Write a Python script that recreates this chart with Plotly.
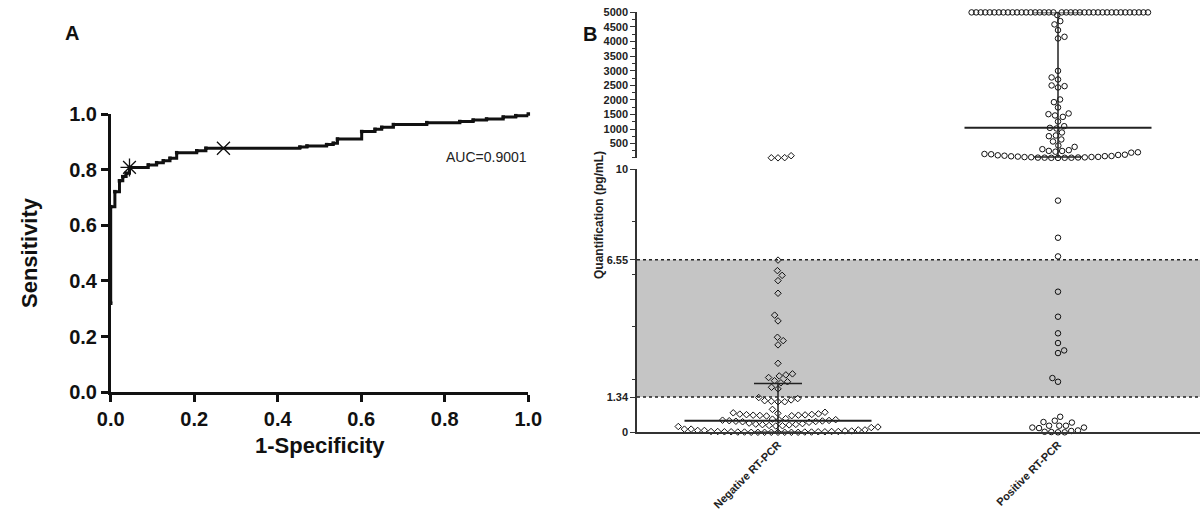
import math
import plotly.graph_objects as go

# ---------------- data ----------------
# Panel A : ROC curve (step vertices)
roc_fpr = [0.0, 0.0, 0.010, 0.021, 0.029, 0.037, 0.045, 0.090, 0.110, 0.126, 0.142,
           0.158, 0.206, 0.228, 0.453, 0.470, 0.517, 0.533, 0.543, 0.601, 0.633,
           0.649, 0.677, 0.757, 0.836, 0.868, 0.900, 0.940, 0.970, 1.0]
roc_tpr = [0.32, 0.667, 0.721, 0.760, 0.775, 0.787, 0.808, 0.817, 0.825, 0.832, 0.841,
           0.861, 0.868, 0.877, 0.881, 0.885, 0.890, 0.895, 0.910, 0.937, 0.945,
           0.952, 0.962, 0.969, 0.973, 0.978, 0.982, 0.989, 0.994, 1.0]
cut_star_fpr = [0.045]
cut_star_tpr = [0.808]
cut_x_fpr = [0.27]
cut_x_tpr = [0.877]
auc_label = "AUC=0.9001"
roc_ticks = [0.0, 0.2, 0.4, 0.6, 0.8, 1.0]

# Panel B : quantification (pg/mL), broken axis
categories = ["Negative RT-PCR", "Positive RT-PCR"]
neg_low = [0.0, 0.0, 0.0, 0.0, 0.0, 0.0, 0.0, 0.0, 0.01, 0.01, 0.01, 0.01,
           0.02, 0.02, 0.02, 0.02, 0.03, 0.03, 0.03, 0.03, 0.05, 0.05, 0.07, 0.07,
           0.09, 0.09, 0.12, 0.12,
           0.18, 0.20, 0.22, 0.24, 0.25, 0.26, 0.28, 0.29, 0.30, 0.31, 0.33, 0.35,
           0.38, 0.40, 0.41, 0.42, 0.43, 0.44, 0.45, 0.46, 0.47, 0.48, 0.50, 0.52,
           0.62, 0.63, 0.64, 0.65, 0.65, 0.66, 0.67, 0.68, 0.69, 0.70, 0.72, 0.74, 0.76, 0.87,
           1.16, 1.16, 1.18, 1.20, 1.23, 1.28, 1.32,
           1.65, 1.71, 1.88, 1.92, 1.96, 2.08, 2.14, 2.18, 2.22,
           2.62, 3.32, 3.48, 3.61, 4.23, 4.45, 5.28, 5.76, 5.96, 6.14, 6.54]
neg_high = [12, 15, 18, 85]
pos_low = [0.0, 0.0, 0.01, 0.02, 0.05, 0.07, 0.16, 0.18, 0.18, 0.25, 0.25, 0.25,
           0.37, 0.39, 0.44, 0.59, 1.92, 2.06, 3.01, 3.11, 3.39, 3.76, 4.39, 5.34,
           6.68, 7.39, 8.80]
pos_high = [10, 12, 14, 16, 18, 20, 24, 28, 32, 38, 41, 45, 55, 65, 70, 75, 85, 99,
            110, 120, 135, 144, 190, 202, 223, 247,
            250, 275, 309, 388, 436, 573, 642, 755, 779, 882, 1019, 1040, 1098, 1259,
            1417, 1465, 1510, 1534, 1740, 1922, 2014, 2426, 2471, 2495, 2700, 2769,
            2996, 4107, 4163, 4393, 4588, 4701, 4907] + [5000] * 39
neg_median, neg_q1, neg_q3 = 0.44, 0.0, 1.85      # lower segment
pos_median, pos_q1, pos_q3 = 1040, 41, 5000       # upper segment
band_low, band_high = 1.34, 6.55
low_ticks = [0, 1.34, 6.55, 10]
low_ticktext = ["0", "1.34", "6.55", "10"]
low_minor = [2, 4, 6, 8]
up_ticks = [500, 1000, 1500, 2000, 2500, 3000, 3500, 4000, 4500, 5000]
up_minor = [10, 250, 750, 1250, 1750, 2250, 2750, 3250, 3750, 4250, 4750]
low_range = [0, 10]
up_range = [10, 5000]

# ---------------- layout geometry (pixels) ----------------
W, H = 1202, 511
A_X0, A_X1, A_Y0, A_Y1 = 110.7, 528.3, 392.3, 114.0
B_X0, B_X1 = 637.0, 1200.0
B_LOW_BOT, B_LOW_TOP = 432.3, 169.0
B_UP_BOT, B_UP_TOP = 157.9, 12.4
CAT_PX = [778.0, 1058.0]
UNIT_PX = CAT_PX[1] - CAT_PX[0]
xr = [(B_X0 - CAT_PX[0]) / UNIT_PX, (B_X1 - CAT_PX[0]) / UNIT_PX]
D = 6.7          # marker spacing in px
ROW_LIM = 90.0   # max half width of a row in px
HALF_MED = 93.5 / UNIT_PX
HALF_CAP = 24.0 / UNIT_PX


def px(x):
    return x / W


def py(y):
    return 1 - y / H


def low_px(v):
    return B_LOW_BOT - (v - low_range[0]) / (low_range[1] - low_range[0]) * (B_LOW_BOT - B_LOW_TOP)


def up_px(v):
    return B_UP_BOT - (v - up_range[0]) / (up_range[1] - up_range[0]) * (B_UP_BOT - B_UP_TOP)


def swarm(ys, vals):
    idx = sorted(range(len(ys)), key=lambda i: (-ys[i], i))
    placed = []
    xs = [0.0] * len(ys)
    flip = False
    for i in idx:
        y = ys[i]
        near = [(xj, yj) for xj, yj in placed if abs(yj - y) < D]
        ws = [math.sqrt(D * D - (yj - y) ** 2) for xj, yj in near]
        cands = [0.0]
        for (xj, yj), w in zip(near, ws):
            cands += [xj - w, xj + w]
        valid = [c for c in cands
                 if all(abs(c - xj) >= w - 1e-6 for (xj, yj), w in zip(near, ws))]
        best = min(abs(c) for c in valid)
        ties = sorted(set(round(c, 4) for c in valid if abs(c) - best < 0.5))
        if len(ties) > 1:
            c = ties[0] if flip else ties[-1]
            flip = not flip
        else:
            c = ties[0]
        xs[i] = c
        placed.append((c, y))
    # compress over-wide rows of identical values
    groups = {}
    for i, v in enumerate(vals):
        groups.setdefault(v, []).append(i)
    for v, ii in groups.items():
        m = max(abs(xs[i]) for i in ii)
        if len(ii) > 10 and m > ROW_LIM:
            for i in ii:
                xs[i] *= ROW_LIM / m
    return xs


def group_positions(low, high, center):
    ys = [low_px(v) for v in low] + [up_px(v) for v in high]
    offs = swarm(ys, [("l", v) for v in low] + [("h", v) for v in high])
    xs = [center + o / UNIT_PX for o in offs]
    return xs[:len(low)], xs[len(low):]


neg_low_x, neg_high_x = group_positions(neg_low, neg_high, 0)
pos_low_x, pos_high_x = group_positions(pos_low, pos_high, 1)

FONT = "Liberation Sans, Arial, sans-serif"
INK = "#111111"

fig = go.Figure()

# ---- Panel A ----
fig.add_trace(go.Scatter(
    x=roc_fpr, y=roc_tpr, mode="lines+markers", xaxis="x", yaxis="y",
    line=dict(shape="hv", width=3, color=INK),
    marker=dict(symbol="square", size=3.5, color=INK), cliponaxis=False,
    showlegend=False, hoverinfo="skip"))
fig.add_trace(go.Scatter(
    x=cut_star_fpr, y=cut_star_tpr, mode="markers", xaxis="x", yaxis="y",
    marker=dict(symbol="asterisk-open", size=15, color=INK,
                line=dict(width=1.3, color=INK)),
    showlegend=False, hoverinfo="skip"))
fig.add_trace(go.Scatter(
    x=cut_x_fpr, y=cut_x_tpr, mode="markers", xaxis="x", yaxis="y",
    marker=dict(symbol="x-thin-open", size=13, color=INK,
                line=dict(width=1.3, color=INK)),
    showlegend=False, hoverinfo="skip"))

# ---- Panel B ----
fig.add_shape(type="rect", xref="x2 domain", yref="y2", x0=0, x1=1,
              y0=band_low, y1=band_high, fillcolor="#c5c5c5",
              line=dict(width=0), layer="below")
for yv in (band_low, band_high):
    fig.add_shape(type="line", xref="x2 domain", yref="y2", x0=0, x1=1,
                  y0=yv, y1=yv, line=dict(color="#222", width=1.5, dash="dot"))

mk_d = dict(symbol="diamond-open", size=5, line=dict(width=1, color=INK), color=INK)
mk_c = dict(symbol="circle-open", size=5.5, line=dict(width=1, color=INK), color=INK)
fig.add_trace(go.Scatter(x=neg_low_x, y=neg_low, mode="markers", xaxis="x2", yaxis="y2",
                         marker=mk_d, cliponaxis=False, showlegend=False, hoverinfo="skip"))
fig.add_trace(go.Scatter(x=neg_high_x, y=neg_high, mode="markers", xaxis="x2", yaxis="y3",
                         marker=mk_d, cliponaxis=False, showlegend=False, hoverinfo="skip"))
fig.add_trace(go.Scatter(x=pos_low_x, y=pos_low, mode="markers", xaxis="x2", yaxis="y2",
                         marker=mk_c, cliponaxis=False, showlegend=False, hoverinfo="skip"))
fig.add_trace(go.Scatter(x=pos_high_x, y=pos_high, mode="markers", xaxis="x2", yaxis="y3",
                         marker=mk_c, cliponaxis=False, showlegend=False, hoverinfo="skip"))


def err_lines(c, med, q1, q3, yaxis):
    fig.add_trace(go.Scatter(
        x=[c - HALF_MED, c + HALF_MED], y=[med, med], mode="lines",
        xaxis="x2", yaxis=yaxis, line=dict(color="#222", width=2),
        cliponaxis=False, showlegend=False, hoverinfo="skip"))
    fig.add_trace(go.Scatter(
        x=[c, c, None, c - HALF_CAP, c + HALF_CAP, None, c - HALF_CAP, c + HALF_CAP],
        y=[q1, q3, None, q3, q3, None, q1, q1], mode="lines",
        xaxis="x2", yaxis=yaxis, line=dict(color="#222", width=1.5),
        cliponaxis=False, showlegend=False, hoverinfo="skip"))


err_lines(0, neg_median, neg_q1, neg_q3, "y2")
err_lines(1, pos_median, pos_q1, pos_q3, "y3")

axA = dict(showline=True, linewidth=2.5, linecolor=INK, ticks="outside", ticklen=7,
           tickwidth=2.5, tickcolor=INK, showgrid=False, zeroline=False,
           tickfont=dict(family=FONT, size=20, color=INK, weight="bold"))
axB = dict(showline=True, linewidth=1.5, linecolor="#333", ticks="outside", ticklen=5,
           tickwidth=1.3, tickcolor="#333", showgrid=False, zeroline=False,
           tickfont=dict(family=FONT, size=11, color="#222", weight="bold"))


def label(text, x, y, size, angle=0, bold=True, xanchor="center", color=INK):
    return dict(text=text, x=px(x), y=py(y), xref="paper", yref="paper",
                xanchor=xanchor, yanchor="middle", showarrow=False, textangle=angle,
                font=dict(family=FONT, size=size, color=color,
                          weight="bold" if bold else "normal"))


fig.update_layout(
    width=W, height=H, margin=dict(l=0, r=0, t=0, b=0, autoexpand=False),
    paper_bgcolor="white", plot_bgcolor="rgba(0,0,0,0)", showlegend=False,
    xaxis=dict(domain=[px(A_X0), px(A_X1)], range=[0, 1], anchor="y",
               tickvals=roc_ticks, tickformat=".1f", **axA),
    yaxis=dict(domain=[py(A_Y0), py(A_Y1)], range=[0, 1], anchor="x",
               tickvals=roc_ticks, tickformat=".1f", **axA),
    xaxis2=dict(domain=[px(B_X0), px(B_X1)], range=xr, anchor="y2",
                tickvals=[0, 1], ticktext=categories, tickangle=-45,
                **{**axB, "ticks": "",
                   "tickfont": dict(family=FONT, size=11, color="#222", weight="bold")}),
    yaxis2=dict(domain=[py(B_LOW_BOT), py(B_LOW_TOP)], range=low_range, anchor="x2",
                tickvals=low_ticks, ticktext=low_ticktext,
                minor=dict(tickvals=low_minor, ticks="outside", ticklen=3,
                           tickcolor="#333", tickwidth=1.2),
                **axB),
    yaxis3=dict(domain=[py(B_UP_BOT), py(B_UP_TOP)], range=up_range, anchor="x2",
                tickvals=up_ticks,
                minor=dict(tickvals=up_minor, ticks="outside", ticklen=3,
                           tickcolor="#333", tickwidth=1.2),
                **axB),
    annotations=[
        label("A", 72, 33, 20),
        label("B", 590, 34, 20),
        label("Sensitivity", 30, 253, 22, angle=-90),
        label("1-Specificity", 320, 445, 22),
        label(auc_label, 529, 157, 14, bold=False, xanchor="right", color="#222"),
        label("Quantification (pg/mL)", 599, 215, 12, angle=-90, color="#222"),
    ],
)

fig.write_html("out.html", config={"displayModeBar": False},
               post_script="document.body.style.margin='0';")
